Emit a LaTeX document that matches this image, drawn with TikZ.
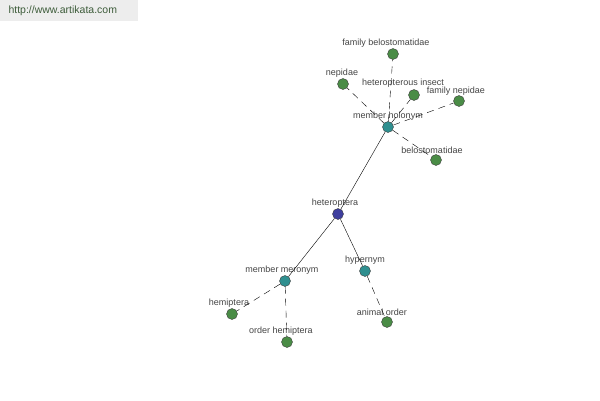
\documentclass[tikz,border=0pt]{standalone}
\usepackage{fontspec}
\setmainfont{Liberation Sans}
\usepackage{tikz}

\definecolor{hubblue}{HTML}{3E3E9E}
\definecolor{relteal}{HTML}{2F8F8F}
\definecolor{leafgreen}{HTML}{4A8C46}
\definecolor{labelgray}{HTML}{444444}
\definecolor{sitegreen}{HTML}{3D5C3A}

\begin{document}
\begin{tikzpicture}[x=1pt, y=-1pt, font=\fontsize{9}{11}\selectfont,
  dot/.style={circle, draw=black!75, line width=0.4pt, minimum size=11pt, inner sep=0pt},
  hub/.style={dot, fill=hubblue},
  rel/.style={dot, fill=relteal},
  leaf/.style={dot, fill=leafgreen},
  lbl/.style={labelgray, inner sep=1pt},
  link/.style={black, line width=0.4pt},
  dlink/.style={black, line width=0.4pt, dash pattern=on 7pt off 5pt}]
  \useasboundingbox (0,0) rectangle (600,400);
  \fill[black!7] (0,0) rectangle (138,21);
  \node[text=sitegreen, anchor=west, font=\fontsize{10.5}{12}\selectfont] (site) at (5,10.5) {http://www.artikata.com};

  % hub and relations
  \node[hub, label={[lbl, xshift=-3pt]above:heteroptera}] (h) at (338,214) {};
  \node[rel, label={[lbl]above:member holonym}] (mh) at (388,127) {};
  \node[rel, label={[lbl, xshift=-3pt]above:member meronym}] (mm) at (285,281) {};
  \node[rel, label={[lbl]above:hypernym}] (hy) at (365,271) {};

  % leaves
  \node[leaf, label={[lbl, xshift=-7pt]above:family belostomatidae}] (fb) at (393,54) {};
  \node[leaf, label={[lbl, xshift=-1pt]above:nepidae}] (ne) at (343,84) {};
  \node[leaf, label={[lbl, xshift=-11pt, yshift=1pt]above:heteropterous insect}] (hi) at (414,95) {};
  \node[leaf, label={[lbl, xshift=-3pt, yshift=-1.5pt]above:family nepidae}] (fn) at (459,101) {};
  \node[leaf, label={[lbl, xshift=-4pt]above:belostomatidae}] (be) at (436,160) {};
  \node[leaf, label={[lbl, xshift=-3pt]above:hemiptera}] (he) at (232,314) {};
  \node[leaf, label={[lbl, xshift=-6pt]above:order hemiptera}] (oh) at (287,342) {};
  \node[leaf, label={[lbl, xshift=-5pt]above:animal order}] (ao) at (387,322) {};

  \draw[link] (h) -- (mh);
  \draw[link] (h) -- (mm);
  \draw[link] (h) -- (hy);
  \foreach \n in {fb,ne,hi,fn,be}
    \draw[dlink] (mh) -- (\n);
  \draw[dlink] (mm) -- (he);
  \draw[dlink] (mm) -- (oh);
  \draw[dlink] (hy) -- (ao);
\end{tikzpicture}
\end{document}
